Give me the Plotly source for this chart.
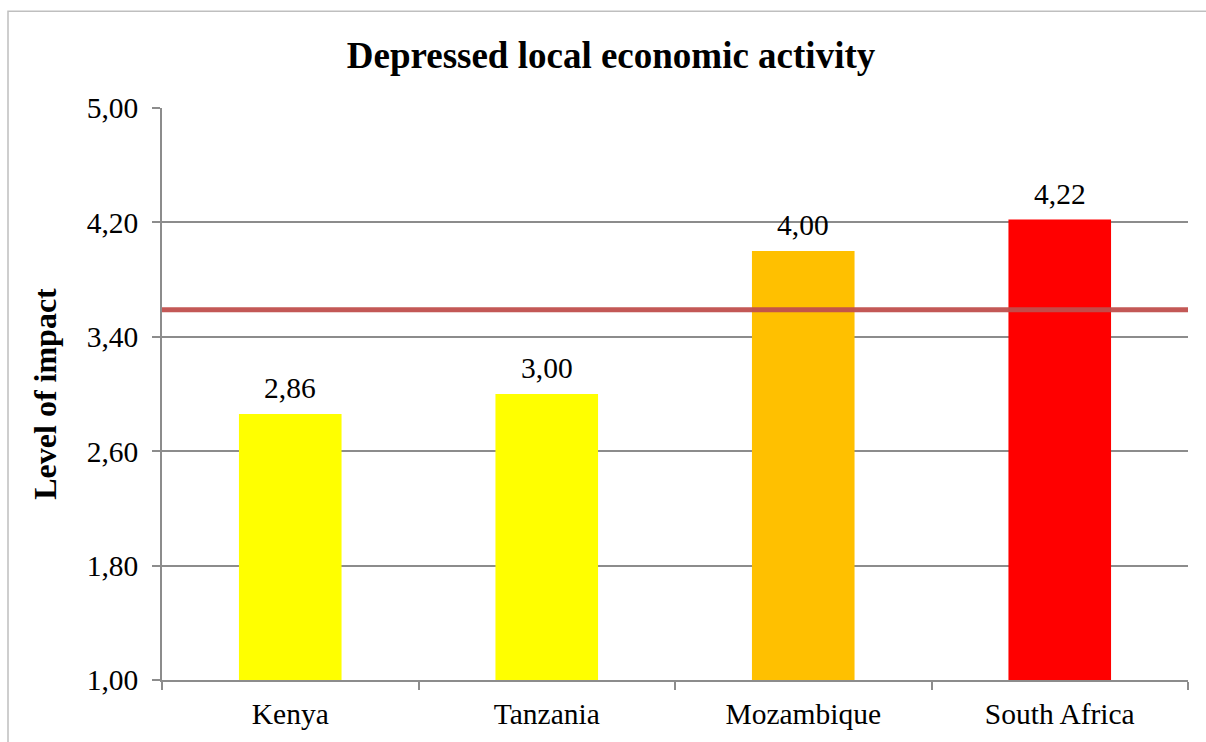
import plotly.graph_objects as go

# Survey results: perceived level of impact per country
countries = ["Kenya", "Tanzania", "Mozambique", "South Africa"]
impact = [2.86, 3.00, 4.00, 4.22]
bar_colors = ["#FFFF00", "#FFFF00", "#FFC000", "#FF0000"]
reference_level = 3.59
y_ticks = [1.00, 1.80, 2.60, 3.40, 4.20, 5.00]

W, H = 1206, 742
ML, MR, MT, MB = 162, 18, 108, 60
pw, ph = W - ML - MR, H - MT - MB

serif = "Liberation Serif, Times New Roman, serif"
grid = "#8C8C8C"
fs = 29.5

fig = go.Figure()
fig.add_trace(go.Bar(
    x=countries,
    y=impact,
    marker=dict(color=bar_colors, line=dict(width=0)),
    hoverinfo="x+y",
))

# Value labels above each bar
for c, v in zip(countries, impact):
    fig.add_annotation(
        x=c, y=v, xref="x", yref="y",
        text=f"{v:.2f}".replace(".", ","),
        showarrow=False, yanchor="bottom", yshift=8,
        font=dict(family=serif, size=fs, color="#000000"),
    )

fig.update_layout(
    width=W, height=H,
    margin=dict(l=ML, r=MR, t=MT, b=MB),
    paper_bgcolor="white",
    plot_bgcolor="white",
    separators=", ",
    showlegend=False,
    bargap=0.6,
    font=dict(family=serif, color="#000000"),
    title=dict(
        text="<b>Depressed local economic activity</b>",
        x=611 / W, xanchor="center",
        y=1 - 55 / H, yanchor="middle",
        font=dict(family=serif, size=37, color="#000000"),
    ),
    xaxis=dict(
        showgrid=False,
        showline=True, linecolor=grid, linewidth=1.5,
        ticks="outside", tickson="boundaries", ticklen=8, tickcolor=grid, tickwidth=1.5,
        tickfont=dict(family=serif, size=fs, color="#000000"),
        ticklabelstandoff=7,
    ),
    yaxis=dict(
        range=[1.0, 5.0],
        tickvals=y_ticks,
        tickformat=".2f",
        showgrid=True, gridcolor=grid, gridwidth=1.5,
        showline=True, linecolor=grid, linewidth=1.5,
        ticks="outside", ticklen=8, tickcolor=grid, tickwidth=1.5,
        tickfont=dict(family=serif, size=fs, color="#000000"),
        ticklabelstandoff=8,
        zeroline=False,
        title=dict(text="<b>Level of impact</b>",
                   font=dict(family=serif, size=32, color="#000000"),
                   standoff=21),
    ),
)

# Reference level across all countries
fig.add_shape(
    type="line", xref="paper", yref="y",
    x0=0, x1=1, y0=reference_level, y1=reference_level,
    line=dict(color="#C0504D", width=5), opacity=0.95, layer="above",
)

# Chart frame
fig.add_shape(
    type="rect", xref="paper", yref="paper",
    x0=(8 - ML) / pw, x1=(W + 20 - ML) / pw,
    y0=-(MB + 20) / ph, y1=1 + (MT - 11) / ph,
    line=dict(color="#BFBFBF", width=1.5), fillcolor="rgba(0,0,0,0)", layer="below",
)

fig.write_html("out.html")
